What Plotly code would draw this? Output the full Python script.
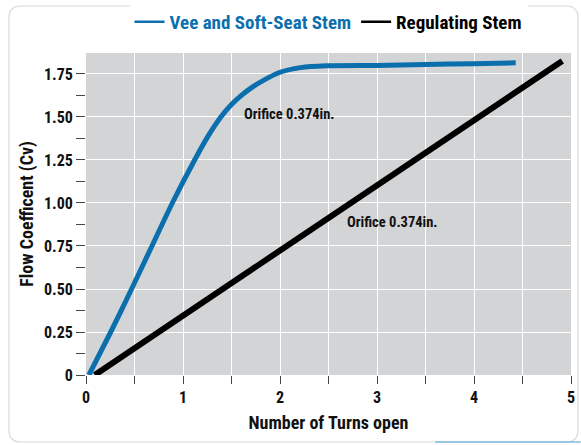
import plotly.graph_objects as go

# Data
vee_turns = [0.03, 0.255, 0.47, 0.68, 0.89, 1.12, 1.26, 1.39, 1.50, 1.59, 1.70, 1.82, 2.00, 2.21, 2.48, 3.00, 3.50, 4.00, 4.43]
vee_cv    = [0.00, 0.25, 0.50, 0.75, 1.00, 1.25, 1.39, 1.50, 1.572, 1.62, 1.668, 1.71, 1.76, 1.787, 1.798, 1.80, 1.805, 1.81, 1.815]
reg_turns = [0.09, 4.91]
reg_cv    = [0.00, 1.826]

series_names = ["Vee and Soft-Seat Stem", "Regulating Stem"]
series_colors = ["#0b6fae", "#000000"]

annot_text = "Orifice 0.374in."
annot_x = [2.10, 3.155]
annot_y = [1.512, 0.888]

y_tickvals = [0, 0.25, 0.5, 0.75, 1.0, 1.25, 1.5, 1.75]
y_ticktext = ["0", "0.25", "0.50", "0.75", "1.00", "1.25", "1.50", "1.75"]
x_tickvals = [0, 1, 2, 3, 4, 5]
x_ticktext = ["0", "1", "2", "3", "4", "5"]

FONT = "Roboto Condensed, Liberation Sans Narrow, DejaVu Sans Condensed, sans-serif"

fig = go.Figure()
fig.add_trace(go.Scatter(x=vee_turns, y=vee_cv, mode="lines",
                         line=dict(color=series_colors[0], width=5, shape="spline", smoothing=0.6),
                         showlegend=False, hoverinfo="skip"))
fig.add_trace(go.Scatter(x=reg_turns, y=reg_cv, mode="lines",
                         line=dict(color=series_colors[1], width=6),
                         showlegend=False, hoverinfo="skip"))
# legend entries
for name, col in zip(series_names, series_colors):
    fig.add_trace(go.Scatter(x=[None], y=[None], mode="lines",
                             line=dict(color=col, width=2.5),
                             name=f"<span style='color:{col}'><b>{name}</b></span>"))

for ax, ay in zip(annot_x, annot_y):
    fig.add_annotation(x=ax, y=ay, xref="x", yref="y", text=f"<b>{annot_text}</b>",
                       showarrow=False, font=dict(family=FONT, size=14.5, color="#111"))

# card border (rounded rectangle in paper coords)
L, R, T, B = -0.1588, 1.0144, 1.146, -0.208
rx, ry = 0.0247, 0.0373
card = (f"M {L+rx},{T} L {R-rx},{T} Q {R},{T} {R},{T-ry} L {R},{B+ry} Q {R},{B} {R-rx},{B} "
        f"L {L+rx},{B} Q {L},{B} {L},{B+ry} L {L},{T-ry} Q {L},{T} {L+rx},{T} Z")
fig.add_shape(type="path", xref="paper", yref="paper", layer="below",
              path=card, line=dict(color="#d9d9d9", width=1.2))
fig.add_shape(type="line", xref="paper", yref="paper", x0=0.72, x1=1.02, y0=B, y1=B,
              line=dict(color="#7db9dc", width=1.5))

fig.update_layout(
    width=581, height=445,
    margin=dict(l=86, r=10, t=53, b=70, autoexpand=False),
    paper_bgcolor="white",
    plot_bgcolor="#d3d4d6",
    font=dict(family=FONT, size=16, color="#111"),
    legend=dict(orientation="h", x=0.5, xanchor="center", y=0.951, yanchor="middle",
                yref="container", font=dict(size=19), itemwidth=30, tracegroupgap=0),
    showlegend=True,
)

fig.update_xaxes(range=[0, 5], tickvals=x_tickvals, ticktext=[f"<b>{t}</b>" for t in x_ticktext],
                 ticks="outside", ticklen=8, tickcolor="#444", tickwidth=1.2,
                 showgrid=True, gridcolor="white", gridwidth=1.2, zeroline=False,
                 tickfont=dict(size=16, family=FONT),
                 minor=dict(dtick=0.5, ticks="outside", ticklen=8, tickcolor="#444",
                            showgrid=True, gridcolor="white", gridwidth=1.2),
                 title=dict(text="<b>Number of Turns open</b>", font=dict(size=18), standoff=10),
                 showline=False, automargin=False)
fig.update_yaxes(range=[0, 1.872], tickvals=y_tickvals, ticktext=[f"<b>{t}</b>" for t in y_ticktext],
                 ticks="outside", ticklen=9, tickcolor="#444", tickwidth=1.2,
                 showgrid=True, gridcolor="white", gridwidth=1.2, zeroline=False,
                 tickfont=dict(size=16, family=FONT),
                 minor=dict(dtick=0.125, ticks="outside", ticklen=9, tickcolor="#444", showgrid=False),
                 title=dict(text="<b>Flow Coefficent (Cv)</b>", font=dict(size=18), standoff=5),
                 showline=False, automargin=False)

fig.write_html("out.html", config={"displayModeBar": False},
               post_script="document.body.style.margin='0';")
